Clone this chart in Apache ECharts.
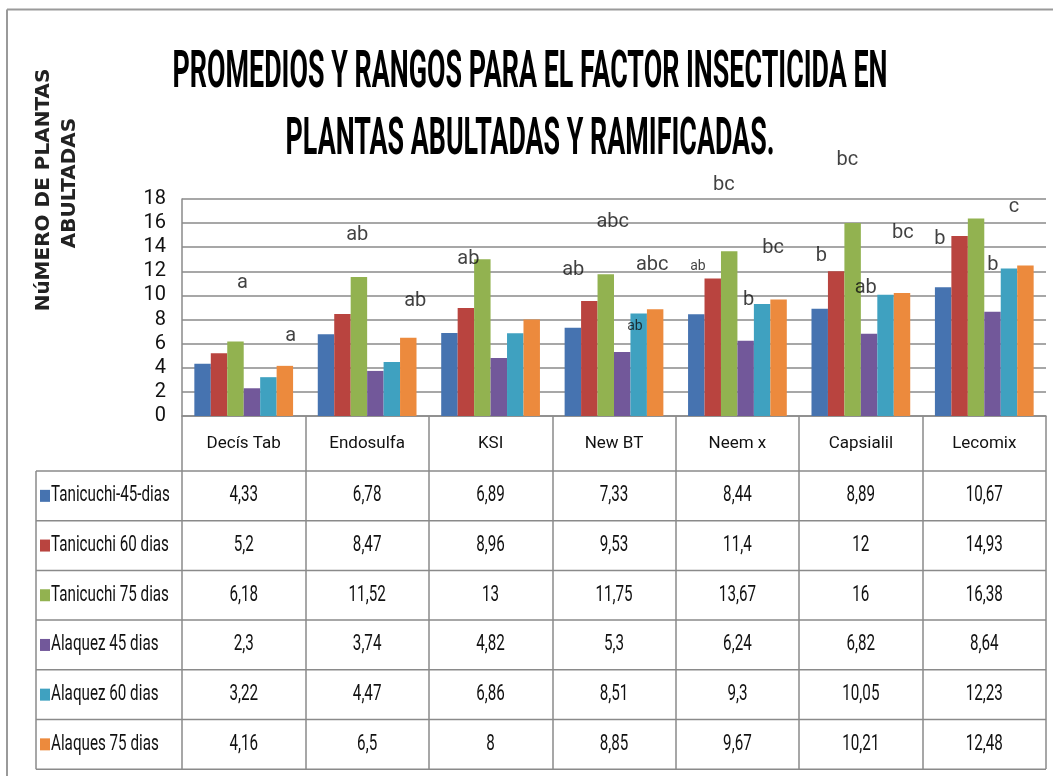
<!DOCTYPE html>
<html>
<head>
<meta charset="utf-8">
<title>Promedios y rangos - factor insecticida</title>
<script src="https://cdn.jsdelivr.net/npm/echarts@6/dist/echarts.min.js"></script>
<style>
html, body { margin: 0; padding: 0; background: #fff; }
#chart { width: 1053px; height: 776px; }
</style>
</head>
<body>
<div id="chart"></div>
<script>
// datos de la tabla
var categories = ['Decís Tab', 'Endosulfa', 'KSI', 'New BT', 'Neem x', 'Capsialil', 'Lecomix'];
var seriesNames = ['Tanicuchi-45-dias', 'Tanicuchi 60 dias', 'Tanicuchi 75 dias', 'Alaquez 45 dias', 'Alaquez 60 dias', 'Alaques 75 dias'];
var tanicuchi45 = [4.33, 6.78, 6.89, 7.33, 8.44, 8.89, 10.67];
var tanicuchi60 = [5.2, 8.47, 8.96, 9.53, 11.4, 12, 14.93];
var tanicuchi75 = [6.18, 11.52, 13, 11.75, 13.67, 16, 16.38];
var alaquez45 = [2.3, 3.74, 4.82, 5.3, 6.24, 6.82, 8.64];
var alaquez60 = [3.22, 4.47, 6.86, 8.51, 9.3, 10.05, 12.23];
var alaques75 = [4.16, 6.5, 8, 8.85, 9.67, 10.21, 12.48];
var yMin = 0, yMax = 18, yStep = 2;

// letras de rango: [posicion en el eje (0-7), altura, texto]
var rangeLetters = [
    [0.49, 11.0, 'a'], [0.88, 6.6, 'a'],
    [1.42, 15.0, 'ab'], [1.89, 9.5, 'ab'],
    [2.32, 13.0, 'ab'],
    [3.17, 12.1, 'ab'], [3.49, 16.1, 'abc'], [3.81, 12.5, 'abc'], [3.67, 7.4, 'ab'],
    [4.18, 12.4, 'ab'], [4.39, 19.2, 'bc'], [4.79, 13.9, 'bc'], [4.59, 9.6, 'b'],
    [5.18, 13.3, 'b'], [5.39, 21.2, 'bc'], [5.54, 10.6, 'ab'], [5.84, 15.2, 'bc'],
    [6.14, 14.7, 'b'], [6.74, 17.3, 'c'], [6.57, 12.5, 'b']
];
var smallLetters = [8, 9]; // las "ab" pequeñas

var colors = ['#4673B0', '#B9443F', '#92B250', '#72589A', '#3FA1C0', '#EC8A3D'];
var lineGray = '#8a8a8a';
var font = 'Roboto, sans-serif';

var allValues = [tanicuchi45, tanicuchi60, tanicuchi75, alaquez45, alaquez60, alaques75];

var myChart = echarts.init(document.getElementById('chart'));

var series = allValues.map(function (vals, i) {
    return {
        type: 'bar',
        name: seriesNames[i],
        data: vals,
        barGap: '0%',
        barCategoryGap: '20%',
        itemStyle: { color: colors[i] }
    };
});
series.push({
    type: 'scatter',
    xAxisIndex: 1,
    yAxisIndex: 0,
    clip: false,
    silent: true,
    symbolSize: 0,
    z: 10,
    data: rangeLetters.map(function (r, i) {
        var small = smallLetters.indexOf(i) >= 0;
        return {
            value: [r[0], r[1]],
            label: {
                show: true,
                position: 'inside',
                formatter: r[2],
                fontFamily: font,
                fontSize: small ? 14 : 20,
                color: '#111'
            }
        };
    })
});

var option = {
    animation: false,
    backgroundColor: '#fff',
    grid: { left: 182, right: 7, top: 199, bottom: 360 },
    xAxis: [{
        type: 'category',
        data: categories,
        axisLine: { lineStyle: { color: lineGray, width: 1.5 } },
        axisTick: { show: true, length: 353, interval: 0, lineStyle: { color: lineGray, width: 1.5 } },
        axisLabel: {
            interval: 0, margin: 28, verticalAlign: 'middle',
            fontFamily: font, fontSize: 17, color: '#111'
        }
    }, {
        type: 'value',
        min: 0, max: 7,
        show: false
    }],
    yAxis: {
        type: 'value',
        min: yMin, max: yMax, interval: yStep,
        axisLine: { show: true, lineStyle: { color: lineGray, width: 1.5 } },
        axisTick: { show: false },
        splitLine: { lineStyle: { color: lineGray, width: 1.5 } },
        axisLabel: { margin: 16, fontFamily: font, fontSize: 20, color: '#111' }
    },
    series: series
};
myChart.setOption(option);

// tabla de datos, titulo y bordes
function buildGraphics() {
    var g = [];
    var rowTop = 471, rowH = 49.7, tableLeft = 36;
    var xR = myChart.convertToPixel({ xAxisIndex: 1 }, 7);
    var bottom = rowTop + rowH * seriesNames.length;

    // marco exterior
    g.push({ type: 'line', shape: { x1: 7, y1: 9.5, x2: 1053, y2: 9.5 }, style: { stroke: '#9a9a9a', lineWidth: 2 } });
    g.push({ type: 'line', shape: { x1: 7, y1: 9.5, x2: 7, y2: 776 }, style: { stroke: '#9a9a9a', lineWidth: 2 } });

    // lineas horizontales de la tabla
    for (var r = 0; r <= seriesNames.length; r++) {
        var y = rowTop + r * rowH;
        g.push({ type: 'line', shape: { x1: tableLeft, y1: y, x2: xR, y2: y }, style: { stroke: lineGray, lineWidth: 1.5 } });
    }
    g.push({ type: 'line', shape: { x1: tableLeft, y1: rowTop, x2: tableLeft, y2: bottom }, style: { stroke: lineGray, lineWidth: 1.5 } });

    seriesNames.forEach(function (name, r) {
        var yc = rowTop + r * rowH + rowH / 2;
        g.push({ type: 'rect', shape: { x: 40, y: yc - 6, width: 10, height: 12 }, style: { fill: colors[r] } });
        g.push({
            type: 'text', x: 51, y: yc, scaleX: 0.8, scaleY: 1.15,
            style: { text: name, fontFamily: font, fontSize: 19, fill: '#111', textVerticalAlign: 'middle' }
        });
        allValues[r].forEach(function (v, c) {
            var xc = myChart.convertToPixel({ xAxisIndex: 0 }, c);
            g.push({
                type: 'text', x: xc, y: yc, scaleX: 0.8, scaleY: 1.15,
                style: {
                    text: String(v).replace('.', ','), fontFamily: font, fontSize: 19, fill: '#111',
                    textAlign: 'center', textVerticalAlign: 'middle'
                }
            });
        });
    });

    // titulo
    var titleLines = ['PROMEDIOS Y RANGOS PARA EL FACTOR INSECTICIDA EN', 'PLANTAS ABULTADAS Y RAMIFICADAS.'];
    titleLines.forEach(function (t, i) {
        g.push({
            type: 'text', x: 530, y: i === 0 ? 74 : 141, scaleX: 0.895, scaleY: 1.7,
            style: {
                text: t, fontFamily: font, fontWeight: 'bold', fontSize: 30, fill: '#000',
                textAlign: 'center', textVerticalAlign: 'middle'
            }
        });
    });

    // titulo del eje Y
    g.push({
        type: 'text', x: 44, y: 190, rotation: Math.PI / 2,
        style: {
            text: 'NúMERO DE PLANTAS', fontFamily: '"DejaVu Sans", sans-serif', fontWeight: 'bold', fontSize: 20,
            fill: '#222', textAlign: 'center', textVerticalAlign: 'middle'
        }
    });
    g.push({
        type: 'text', x: 70, y: 183, rotation: Math.PI / 2,
        style: {
            text: 'ABULTADAS', fontFamily: '"DejaVu Sans", sans-serif', fontWeight: 'bold', fontSize: 20,
            fill: '#222', textAlign: 'center', textVerticalAlign: 'middle'
        }
    });
    return g;
}
myChart.setOption({ graphic: buildGraphics() });
</script>
</body>
</html>
